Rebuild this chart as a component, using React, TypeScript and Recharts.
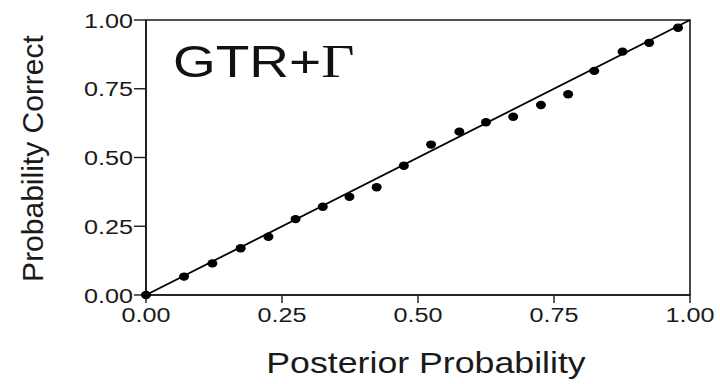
import { ScatterChart, Scatter, XAxis, YAxis, ReferenceLine, ReferenceArea, Label } from 'recharts';

// calibration: mean posterior probability per bin vs. fraction of clades that were correct
const posterior = [0, 0.07, 0.122, 0.174, 0.225, 0.275, 0.325, 0.374, 0.424, 0.474, 0.524, 0.576, 0.625, 0.675, 0.726, 0.776, 0.824, 0.876, 0.925, 0.978];
const correct = [0, 0.067, 0.115, 0.17, 0.212, 0.276, 0.321, 0.357, 0.392, 0.47, 0.547, 0.594, 0.628, 0.648, 0.691, 0.73, 0.815, 0.885, 0.917, 0.972];
const ticks = [0, 0.25, 0.5, 0.75, 1];
const modelName = 'GTR+';
const modelGamma = '\u0393';

const FONT = '"Liberation Sans", Arial, Helvetica, sans-serif';
const SERIF = '"Liberation Serif", "Times New Roman", serif';
const INK = '#1a1a1a';
const STRETCH = 1.2;

const points = posterior.map((p, i) => ({ x: p, y: correct[i] }));

const XTick = ({ x, y, payload }: any) => (
  <text
    transform={`translate(${x},${y + 17}) scale(${STRETCH},1)`}
    textAnchor="middle"
    fontFamily={FONT}
    fontSize={21}
    fill={INK}
  >
    {Number(payload.value).toFixed(2)}
  </text>
);

const YTick = ({ x, y, payload }: any) => (
  <text
    transform={`translate(${x},${y + 7.5}) scale(${STRETCH},1)`}
    textAnchor="end"
    fontFamily={FONT}
    fontSize={21}
    fill={INK}
  >
    {Number(payload.value).toFixed(2)}
  </text>
);

const Dot = ({ cx, cy }: any) => <ellipse cx={cx} cy={cy} rx={5} ry={4.2} fill="#000" />;

export default function App() {
  return (
    <div style={{ position: 'absolute', left: 0, top: 0, width: 720, height: 384, background: '#fff' }}>
      <ScatterChart width={720} height={384} margin={{ top: 20, right: 30, left: 0, bottom: 0 }}>
        <XAxis
          type="number"
          dataKey="x"
          domain={[0, 1]}
          ticks={ticks}
          height={89}
          tickSize={8}
          tickMargin={2}
          tick={<XTick />}
          axisLine={{ stroke: INK, strokeWidth: 1.6 }}
          tickLine={{ stroke: INK, strokeWidth: 1.4 }}
        >
          <Label
            content={({ viewBox }: any) => (
              <text
                transform={`translate(${viewBox.x + viewBox.width / 2 + 8},${373}) scale(1.19,1)`}
                textAnchor="middle"
                fontFamily={FONT}
                fontSize={30}
                fill={INK}
              >
                Posterior Probability
              </text>
            )}
          />
        </XAxis>
        <YAxis
          type="number"
          dataKey="y"
          domain={[0, 1]}
          ticks={ticks}
          width={146}
          tickSize={12}
          tickMargin={1}
          tick={<YTick />}
          axisLine={{ stroke: INK, strokeWidth: 1.6 }}
          tickLine={{ stroke: INK, strokeWidth: 1.4 }}
        >
          <Label
            content={({ viewBox }: any) => (
              <text
                transform={`translate(43,${viewBox.y + viewBox.height / 2 + 1}) rotate(-90)`}
                textAnchor="middle"
                fontFamily={FONT}
                fontSize={30}
                fill={INK}
              >
                Probability Correct
              </text>
            )}
          />
        </YAxis>
        <ReferenceArea x1={0} x2={1} y1={0} y2={1} fill="none" fillOpacity={0} stroke={INK} strokeWidth={1.6}>
          <Label
            content={({ viewBox }: any) => (
              <text
                transform={`translate(${viewBox.x + 27},${viewBox.y + 56.5}) scale(1.25,1)`}
                fontFamily={FONT}
                fontSize={44}
                fill="#111"
              >
                {modelName}
                <tspan fontFamily={SERIF} fontSize={46}>{modelGamma}</tspan>
              </text>
            )}
          />
        </ReferenceArea>
        <ReferenceLine
          segment={[{ x: 0, y: 0 }, { x: 1, y: 1 }]}
          stroke="#000"
          strokeWidth={1.8}
        />
        <Scatter data={points} shape={<Dot />} isAnimationActive={false} />
      </ScatterChart>
    </div>
  );
}
